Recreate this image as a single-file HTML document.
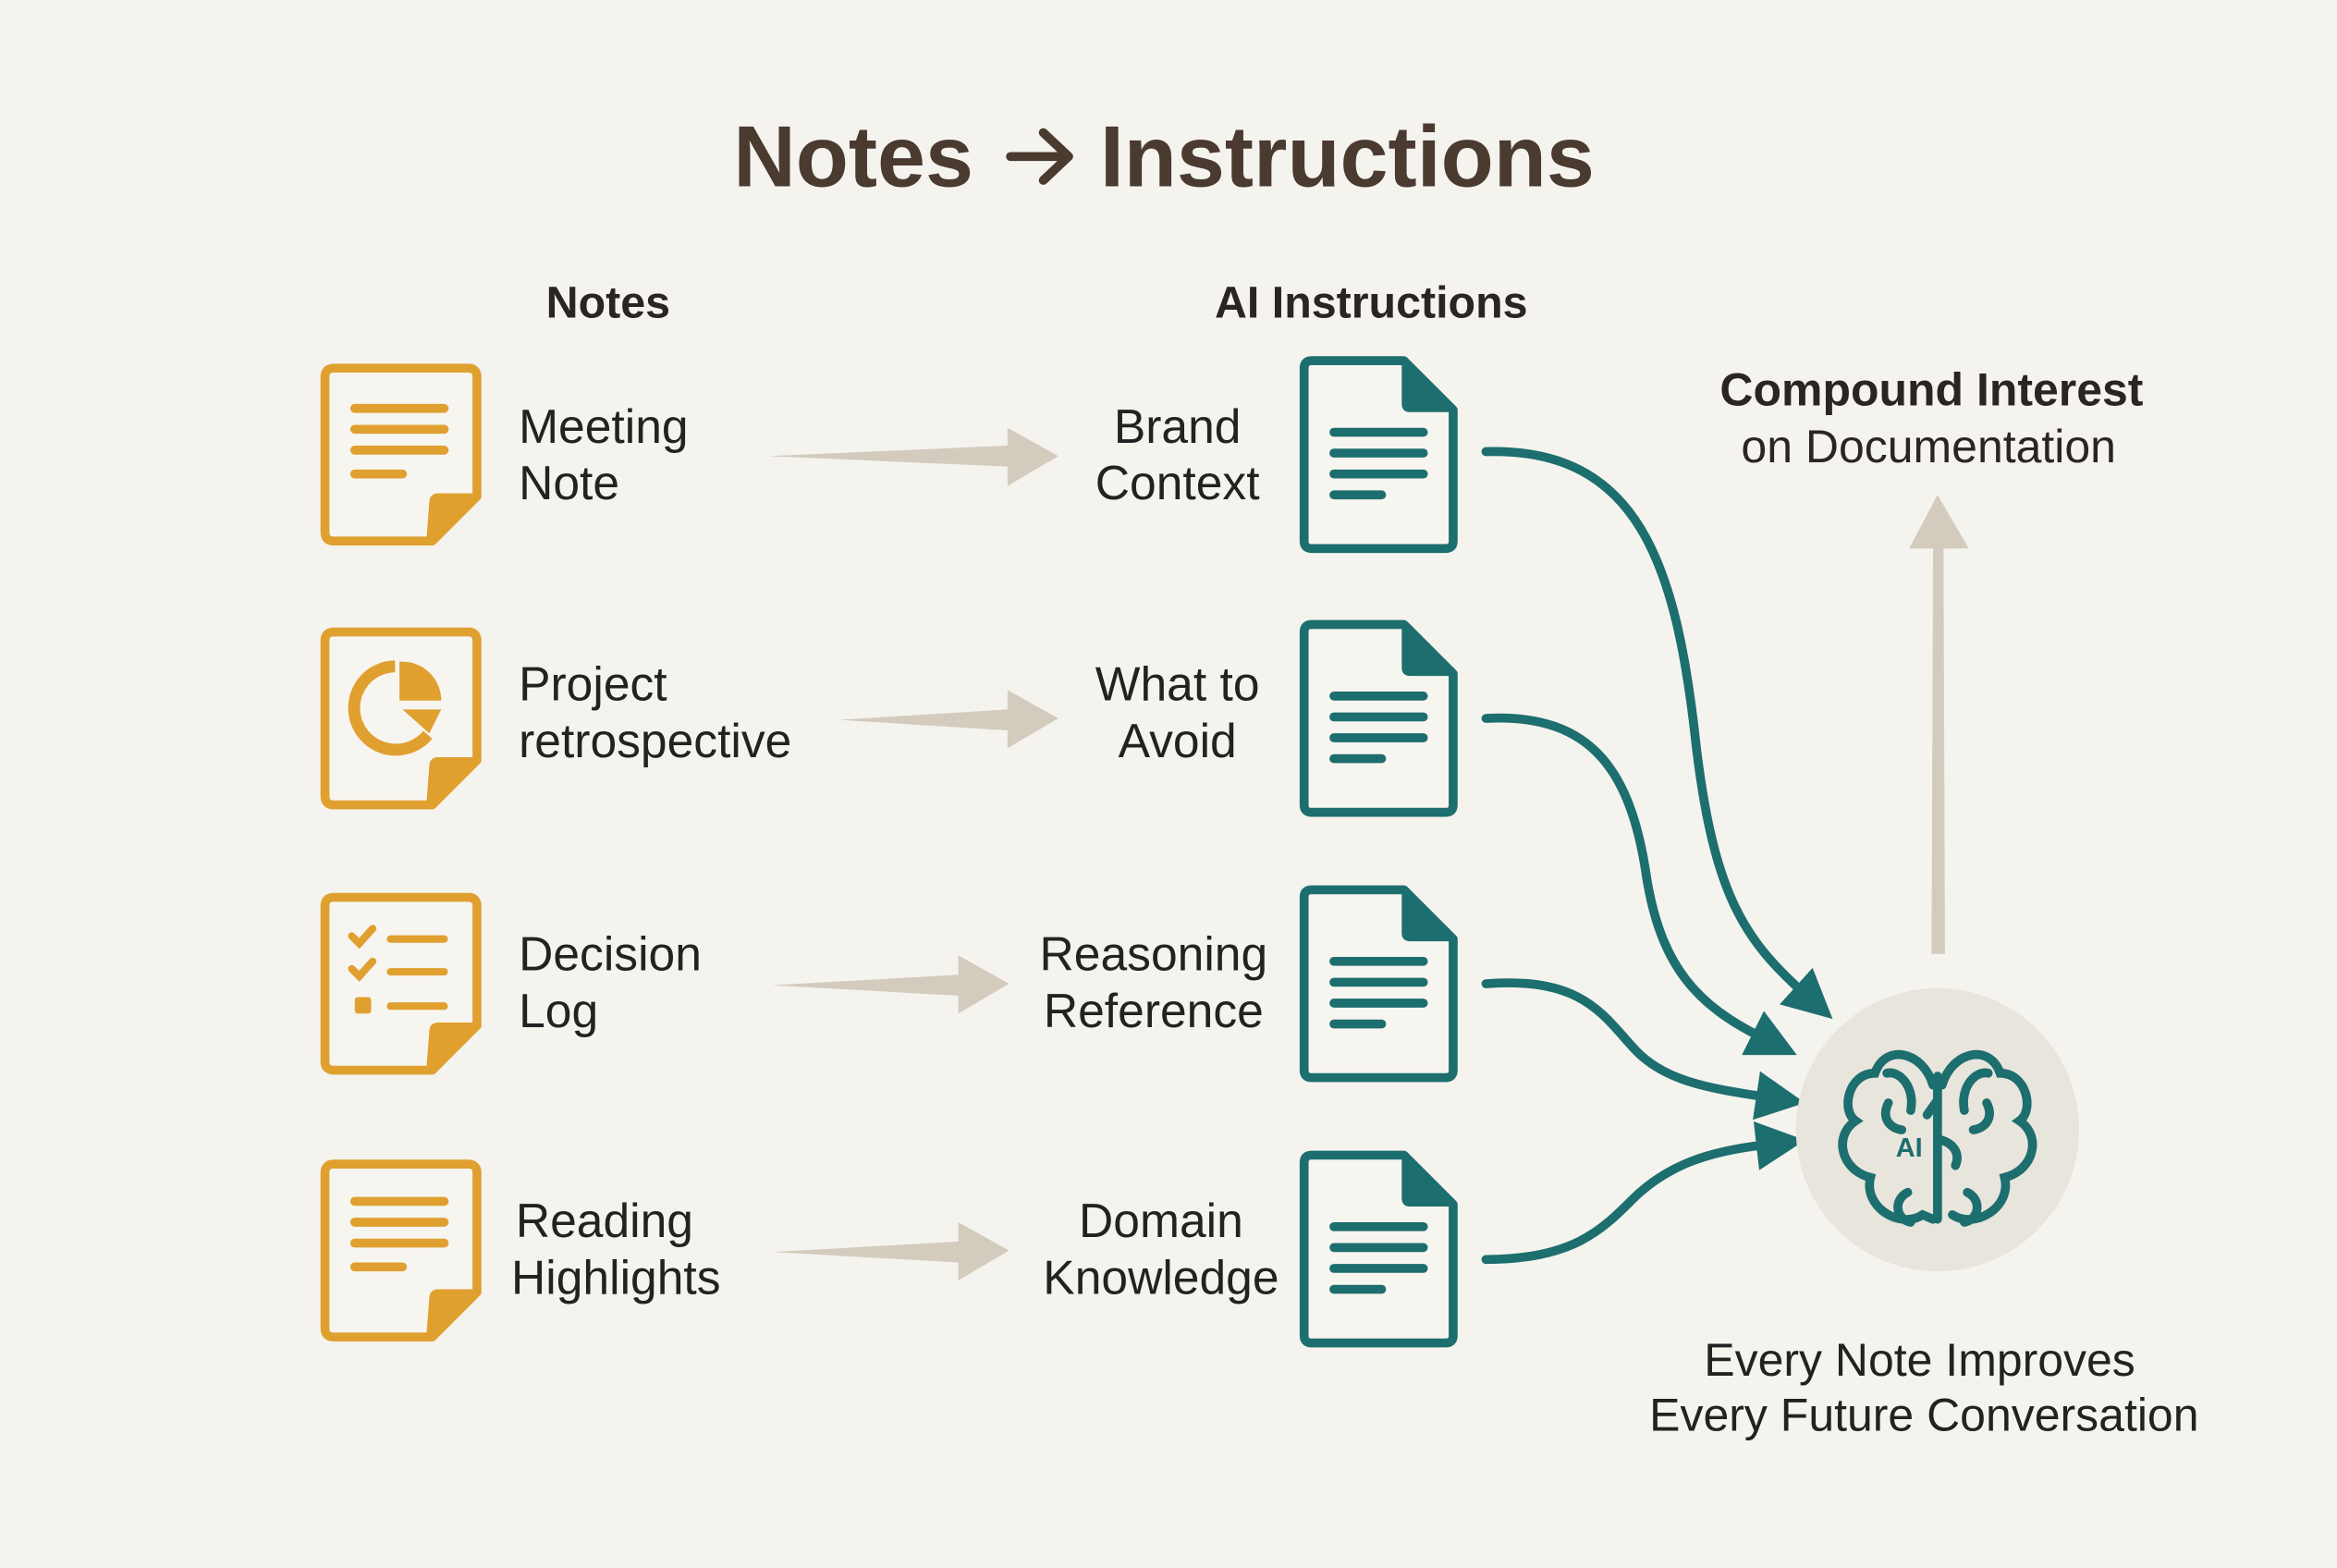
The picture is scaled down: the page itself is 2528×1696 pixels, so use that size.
<!DOCTYPE html>
<html><head><meta charset="utf-8"><style>
html,body{margin:0;padding:0;background:#f4f3ee;}
svg{display:block;}
text{font-family:"Liberation Sans",sans-serif;}
</style></head><body>
<svg width="2528" height="1696" viewBox="0 0 1568 1052" xmlns="http://www.w3.org/2000/svg">
<defs>
<marker id="ah" viewBox="0 0 10 10" refX="2" refY="5" markerWidth="5.5" markerHeight="5.5" orient="auto" markerUnits="strokeWidth">
<path d="M0,0 L10,5 L0,10 z" fill="#1d6e6e"/></marker>
<g id="note">
<path d="M6,2 h90 q6,0 6,6 v80 l-30,30 h-66 q-6,0 -6,-6 v-104 q0,-6 6,-6z" fill="#f7f5ef" stroke="#e0a030" stroke-width="6" stroke-linejoin="round"/>
<path d="M70,118 L72,92 Q72,88 76,88 L102,88 Z" fill="#e0a030" stroke="#e0a030" stroke-width="4" stroke-linejoin="round"/>
</g>
<g id="doc">
<path d="M6,2 h62 l33,33 v88 q0,5 -5,5 h-90 q-5,0 -5,-5 v-116 q0,-5 5,-5z" fill="#f7f5ef" stroke="#1d6e6e" stroke-width="6" stroke-linejoin="round"/>
<path d="M68,2 L101,35 L72,35 Q68,35 68,31 Z" fill="#1d6e6e" stroke="#1d6e6e" stroke-width="3" stroke-linejoin="round"/>
<g stroke="#1d6e6e" stroke-width="6" stroke-linecap="round">
<line x1="21" y1="50" x2="81" y2="50"/><line x1="21" y1="64" x2="81" y2="64"/><line x1="21" y1="78" x2="81" y2="78"/><line x1="21" y1="92" x2="53" y2="92"/></g>
</g>
</defs>
<rect width="1568" height="1052" fill="#f4f3ee"/>
<text x="492" y="125" font-size="58" font-weight="bold" fill="#4a3a30">Notes</text>
<g stroke="#4a3a30" stroke-width="6" fill="none" stroke-linecap="round" stroke-linejoin="round"><line x1="678" y1="105" x2="716" y2="105"/><path d="M700,89 L717,105 L700,121"/></g>
<text x="738" y="125" font-size="58" font-weight="bold" fill="#4a3a30">Instructions</text>
<text x="408" y="213" font-size="30" font-weight="bold" fill="#2a2520" text-anchor="middle">Notes</text>
<text x="920" y="213" font-size="30" font-weight="bold" fill="#2a2520" text-anchor="middle">AI Instructions</text>

<use href="#note" x="218" y="245"/>
<g stroke="#e0a030" stroke-width="6" stroke-linecap="round"><line x1="238" y1="274" x2="298" y2="274"/><line x1="238" y1="288" x2="298" y2="288"/><line x1="238" y1="302" x2="298" y2="302"/><line x1="238" y1="318" x2="270" y2="318"/></g>
<use href="#note" x="218" y="422"/>
<path d="M265,447 A28,28 0 1 0 287,493" fill="none" stroke="#e0a030" stroke-width="8"/>
<path d="M268,444 A26,26 0 0 1 296,470 L268,470 Z" fill="#e0a030"/>
<path d="M270,476 L296,476 L288,492 Z" fill="#e0a030"/>
<use href="#note" x="218" y="600"/>
<g stroke="#e0a030" stroke-width="5" stroke-linecap="round" fill="none"><path d="M236,628 l5,5 l9,-10"/><path d="M236,650 l5,5 l9,-10"/><line x1="262" y1="630" x2="298" y2="630"/><line x1="262" y1="652" x2="298" y2="652"/><line x1="262" y1="675" x2="298" y2="675"/></g>
<rect x="238" y="669" width="11" height="11" rx="2" fill="#e0a030"/>
<use href="#note" x="218" y="779"/>
<g stroke="#e0a030" stroke-width="6" stroke-linecap="round"><line x1="238" y1="806" x2="298" y2="806"/><line x1="238" y1="820" x2="298" y2="820"/><line x1="238" y1="834" x2="298" y2="834"/><line x1="238" y1="850" x2="270" y2="850"/></g>

<g font-size="32" fill="#222">
<text x="348" y="297">Meeting</text><text x="348" y="335">Note</text>
<text x="348" y="470">Project</text><text x="348" y="508">retrospective</text>
<text x="348" y="651">Decision</text><text x="348" y="689">Log</text>
<text x="346" y="830">Reading</text><text x="343" y="868">Highlights</text>
</g>
<g font-size="32" fill="#222" text-anchor="middle">
<text x="790" y="297">Brand</text><text x="790" y="335">Context</text>
<text x="790" y="470">What to</text><text x="790" y="508">Avoid</text>
<text x="774" y="651">Reasoning</text><text x="774" y="689">Reference</text>
<text x="779" y="830">Domain</text><text x="779" y="868">Knowledge</text>
</g>

<g fill="#d3cbbd">
<polygon points="515,306 676,299 676,287 710,306 676,326 676,313"/>
<polygon points="563,483 676,476 676,463 710,482 676,502 676,490"/>
<polygon points="518,661 643,654 643,641 677,660 643,680 643,668"/>
<polygon points="518,840 643,833 643,820 677,839 643,859 643,847"/>
<polygon points="1296,640 1297,368 1281,368 1300,332 1321,368 1304,368 1305,640"/>
</g>

<use href="#doc" x="874" y="240"/>
<use href="#doc" x="874" y="417"/>
<use href="#doc" x="874" y="595"/>
<use href="#doc" x="874" y="773"/>

<g fill="none" stroke="#1d6e6e" stroke-width="6" stroke-linecap="round">
<path d="M997,303 C1100,300 1125,380 1138,500 C1150,600 1170,630 1210,666" marker-end="url(#ah)"/>
<path d="M997,482 C1070,478 1095,520 1105,590 C1115,650 1140,675 1182,696" marker-end="url(#ah)"/>
<path d="M997,660 C1060,655 1075,680 1095,702 C1115,725 1145,730 1185,736" marker-end="url(#ah)"/>
<path d="M997,845 C1055,845 1075,825 1095,805 C1120,780 1150,772 1185,768" marker-end="url(#ah)"/>
</g>

<circle cx="1300" cy="758" r="95" fill="#e8e5dc"/>
<g fill="none" stroke="#1d6e6e" stroke-width="6" stroke-linecap="round">
<line x1="1300" y1="722" x2="1300" y2="818"/>
<path d="M1297,728 C1290,705 1265,700 1258,720 C1240,720 1235,745 1245,752 C1230,762 1235,785 1255,790 C1250,810 1275,825 1290,815 L1297,818"/>
<path d="M1303,728 C1310,705 1335,700 1342,720 C1360,720 1365,745 1355,752 C1370,762 1365,785 1345,790 C1350,810 1325,825 1310,815"/>
<path d="M1266,720 C1275,718 1285,730 1282,745"/><path d="M1334,720 C1325,718 1315,730 1318,745"/>
<path d="M1267,740 C1262,750 1268,757 1276,758"/><path d="M1333,740 C1338,750 1332,757 1324,758"/>
<path d="M1280,800 C1270,805 1272,818 1282,820"/><path d="M1320,800 C1330,805 1328,818 1318,820"/>
<path d="M1303,765 C1312,768 1315,775 1312,782"/>
<path d="M1293,748 L1300,738"/>
</g>
<text x="1281" y="776" font-size="18" font-weight="bold" fill="#1d6e6e" text-anchor="middle">AI</text>

<text x="1296" y="272" font-size="31" font-weight="bold" fill="#2a2520" text-anchor="middle">Compound Interest</text>
<text x="1294" y="310" font-size="31" fill="#2a2520" text-anchor="middle">on Documentation</text>
<text x="1288" y="923" font-size="31" fill="#222" text-anchor="middle">Every Note Improves</text>
<text x="1291" y="960" font-size="31" fill="#222" text-anchor="middle">Every Future Conversation</text>
</svg>
</body></html>
